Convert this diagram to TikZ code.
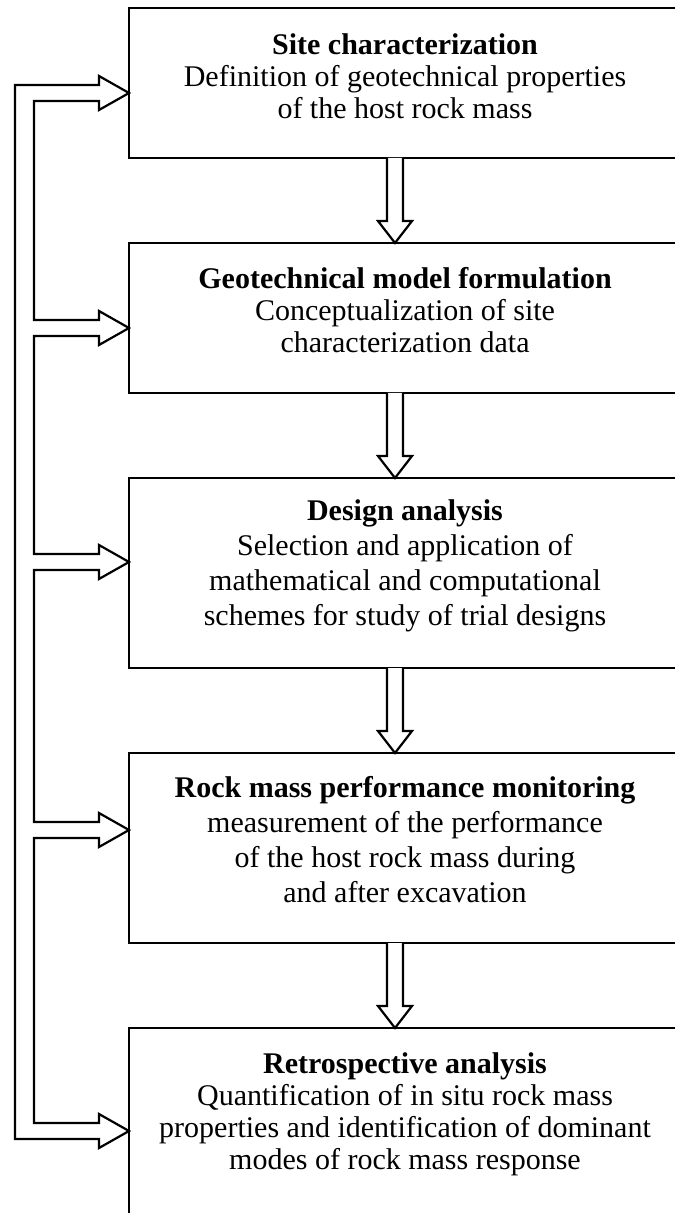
\documentclass[tikz,border=0pt]{standalone}
\usepackage{fontspec}
\setmainfont{Liberation Serif}
\usetikzlibrary{calc}
\tikzset{
  boxshape/.style={rectangle, draw=none, inner sep=0pt, outer sep=0pt, minimum width=273pt},
  frame/.style={line width=1.1pt, line join=miter},
  txt/.style={align=center, inner sep=0pt, font=\fontsize{15}{16}\selectfont},
  txtwide/.style={align=center, inner sep=0pt, font=\fontsize{15}{17.5}\selectfont},
  hollow/.style={line width=1.1pt, line join=miter, fill=white},
  headto/.style={insert path={-- ($(#1)+(-30,-8)$) -- ($(#1)+(-30,-17)$) -- (#1) -- ($(#1)+(-30,17)$) -- ($(#1)+(-30,8)$)}},
}
\newcommand\hdown[2]{%
  \draw[hollow] ($(#1.south -| ax)+(-8,0)$) -- ($(#2.north -| ax)+(-8,-22)$) -- ($(#2.north -| ax)+(-17,-22)$) -- (#2.north -| ax) -- ($(#2.north -| ax)+(17,-22)$) -- ($(#2.north -| ax)+(8,-22)$) -- ($(#1.south -| ax)+(8,0)$);}
\begin{document}
\begin{tikzpicture}[x=0.5pt, y=-0.5pt]
\useasboundingbox (0,0) rectangle (675,1213);
% boxes
\node[boxshape, minimum height=75pt] (b1) at (402,83) {};
\node[boxshape, minimum height=75pt] (b2) at (402,318) {};
\node[boxshape, minimum height=95pt] (b3) at (402,573) {};
\node[boxshape, minimum height=95pt] (b4) at (402,848) {};
\node[boxshape, minimum height=92.5pt] (b5) at (402,1120.5) {};
\foreach \b in {b1,b2,b3,b4}
  \draw[frame] (\b.north east) -- (\b.north west) -- (\b.south west) -- (\b.south east);
\draw[frame] (b5.north east) -- (b5.north west) -- (b5.south west);
% texts
\node[txt] (t1) at (405,76) {\textbf{Site characterization}\\Definition of geotechnical properties\\of the host rock mass};
\node[txt] (t2) at (405,310) {\textbf{Geotechnical model formulation}\\Conceptualization of site\\characterization data};
\node[txtwide] (t3) at (405,566) {\textbf{Design analysis}\\Selection and application of\\mathematical and computational\\schemes for study of trial designs};
\node[txtwide] (t4) at (405,840) {\textbf{Rock mass performance monitoring}\\measurement of the performance\\of the host rock mass during\\and after excavation};
\node[txt] (t5) at (405,1114) {\textbf{Retrospective analysis}\\Quantification of in situ rock mass\\properties and identification of dominant\\modes of rock mass response};
% down arrows
\coordinate (ax) at (395,0);
\hdown{b1}{b2}
\hdown{b2}{b3}
\hdown{b3}{b4}
\hdown{b4}{b5}
% feedback arrows
\coordinate (ox) at (15,0);
\coordinate (ix) at (34,0);
\coordinate (f1) at (b1.west |- 0,93);
\coordinate (f2) at (b2.west |- 0,328);
\coordinate (f3) at (b3.west |- 0,562);
\coordinate (f4) at (b4.west |- 0,830);
\coordinate (f5) at (b5.west |- 0,1131);
\draw[hollow, fill=none] ($(f1 -| ox)+(0,-8)$) [headto=f1]
  -- ($(f1 -| ix)+(0,8)$) -- ($(f2 -| ix)+(0,-8)$) [headto=f2]
  -- ($(f2 -| ix)+(0,8)$) -- ($(f3 -| ix)+(0,-8)$) [headto=f3]
  -- ($(f3 -| ix)+(0,8)$) -- ($(f4 -| ix)+(0,-8)$) [headto=f4]
  -- ($(f4 -| ix)+(0,8)$) -- ($(f5 -| ix)+(0,-8)$) [headto=f5]
  -- ($(f5 -| ox)+(0,8)$) -- cycle;
\end{tikzpicture}
\end{document}
